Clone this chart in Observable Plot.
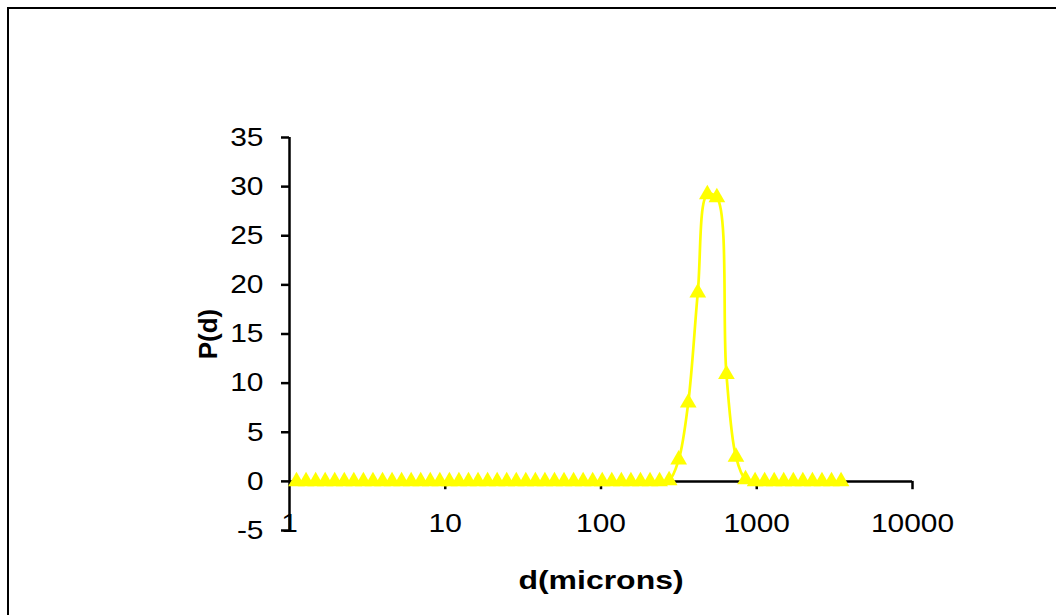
<!DOCTYPE html>
<html>
<head>
<meta charset="utf-8">
<script src="https://cdn.jsdelivr.net/npm/d3@7"></script>
<script src="https://cdn.jsdelivr.net/npm/@observablehq/plot@0.6"></script>
<style>
  html, body { margin: 0; padding: 0; background: #fff; }
  #wrap { position: relative; width: 1056px; height: 615px; overflow: hidden; }
  #border { position: absolute; left: 7px; top: 7px; width: 1100px; height: 700px;
            border-left: 2.6px solid #000; border-top: 2.6px solid #000; pointer-events: none; }
</style>
</head>
<body>
<div id="wrap"><div id="chart"></div><div id="border"></div></div>
<script>
// Particle diameter (microns) for each size class
const diameters = [
  1.109, 1.277, 1.472, 1.694, 1.951, 2.247, 2.588, 2.981, 3.434, 3.955,
  4.554, 5.245, 6.041, 6.957, 8.013, 9.229, 10.63, 12.24, 14.10, 16.24,
  18.70, 21.54, 24.81, 28.57, 32.90, 37.89, 43.64, 50.26, 57.88, 66.67,
  76.78, 88.43, 101.8, 117.3, 135.1, 155.6, 179.2, 206.4, 237.7, 273.7,
  315.3, 363.1, 418.2, 481.6, 554.6, 638.8, 735.6, 847.2, 975.7, 1124,
  1294, 1490, 1717, 1977, 2277, 2622, 3020, 3478
];
// P(d) for each size class
const pd = [
  0, 0, 0, 0, 0, 0, 0, 0, 0, 0,
  0, 0, 0, 0, 0, 0, 0, 0, 0, 0,
  0, 0, 0, 0, 0, 0, 0, 0, 0, 0,
  0, 0, 0, 0, 0, 0, 0, 0, 0, 0.1,
  2.2, 8.0, 19.2, 29.2, 28.9, 10.9, 2.5, 0.2, 0, 0,
  0, 0, 0, 0, 0, 0, 0, 0
];
const xTicks = [1, 10, 100, 1000, 10000];
const yTicks = [-5, 0, 5, 10, 15, 20, 25, 30, 35];
const xTitle = "d(microns)";
const yTitle = "P(d)";

const rows = diameters.map((d, i) => ({d, p: pd[i]}));
const yellow = "#FFFF00";

const chart = Plot.plot({
  width: 1056,
  height: 615,
  marginLeft: 289,
  marginRight: 144,
  marginTop: 137,
  marginBottom: 85,
  x: {type: "log", domain: [1, 10000]},
  y: {domain: [-5, 35]},
  style: {fontFamily: "'Liberation Sans', Arial, sans-serif", fontSize: "26px", color: "#000", background: "#fff"},
  marks: [
    Plot.ruleX([1], {y1: -5, y2: 35, stroke: "#000", strokeWidth: 2.5}),
    Plot.ruleY([0], {x1: 1, x2: 10000, stroke: "#000", strokeWidth: 2.5}),
    Plot.ruleX(xTicks.slice(1), {y1: 0, y2: -0.85, stroke: "#000", strokeWidth: 2.5}),
    Plot.axisY(yTicks, {anchor: "left", tickSize: 8, tickPadding: 18, strokeWidth: 2.5,
      tickFormat: d => String(d), label: null, fontSize: 26}),
    Plot.axisX(xTicks, {anchor: "bottom", tickSize: 0, tickPadding: -16.5,
      tickFormat: d => String(d), label: null, fontSize: 26}),
    Plot.line(rows, {x: "d", y: "p", stroke: yellow, strokeWidth: 2.7, curve: "catmull-rom"}),
    Plot.dot(rows, {x: "d", y: "p", symbol: "triangle", r: 6.2, fill: yellow, stroke: "none"}),
    Plot.text([yTitle], {frameAnchor: "left", dx: -81, rotate: -90, textAnchor: "middle",
      lineAnchor: "middle", fontWeight: "bold", fontSize: 26}),
    Plot.text([xTitle], {frameAnchor: "bottom", dy: 50, textAnchor: "middle",
      lineAnchor: "middle", fontWeight: "bold", fontSize: 26})
  ]
});
document.getElementById("chart").appendChild(chart);

// The reference lettering is stretched horizontally; widen non-rotated text
chart.querySelectorAll("text").forEach(t => {
  const tr = (t.getAttribute("transform") || "") + ((t.parentNode && t.parentNode.getAttribute && t.parentNode.getAttribute("transform")) || "");
  if (tr.includes("rotate")) return;
  const factor = t.textContent === xTitle ? 1.23 : 1.15;
  const L = t.getComputedTextLength();
  if (L > 0) {
    t.setAttribute("textLength", (L * factor).toFixed(1));
    t.setAttribute("lengthAdjust", "spacingAndGlyphs");
  }
});
</script>
</body>
</html>
